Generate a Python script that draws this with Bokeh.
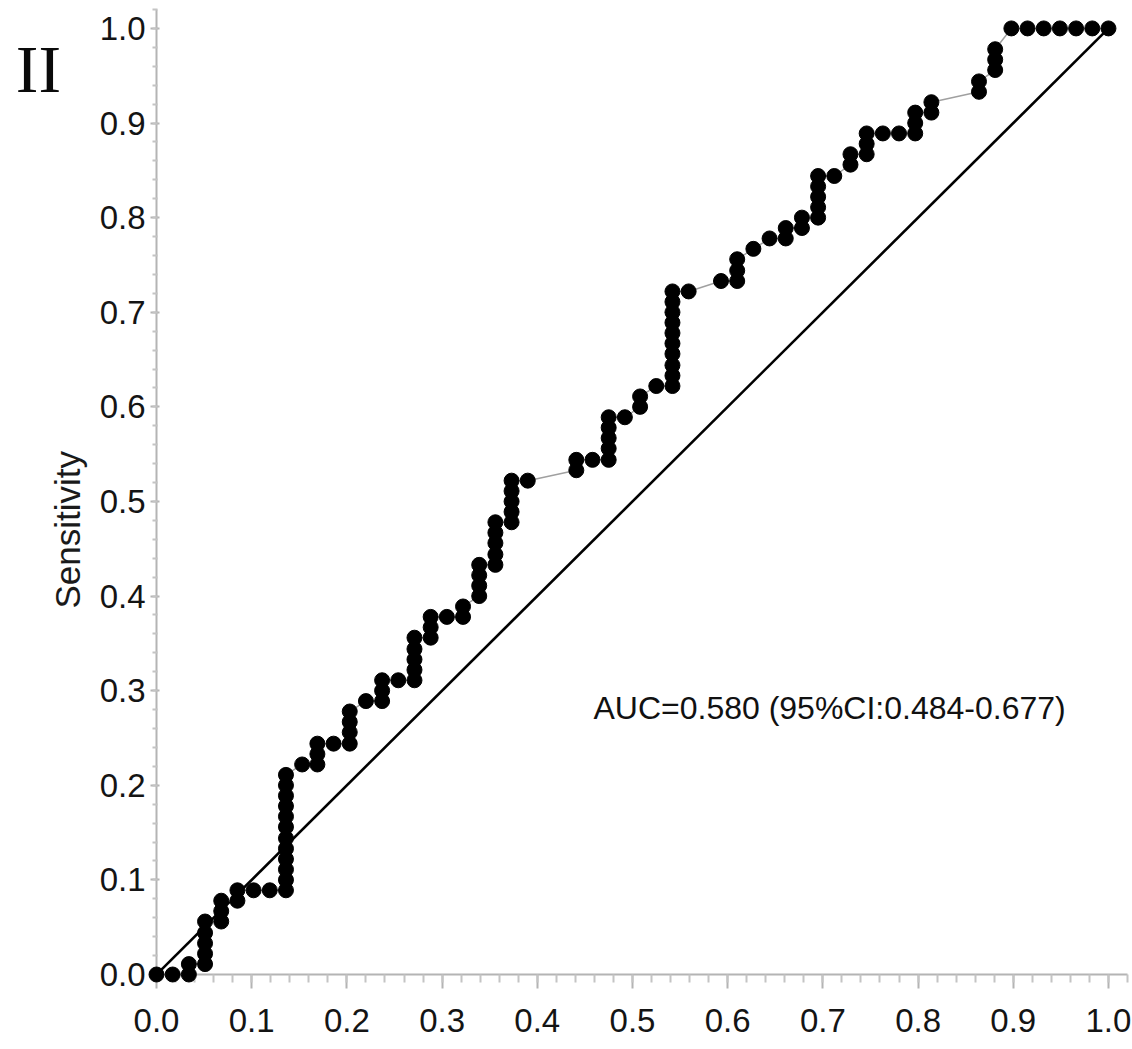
from bokeh.plotting import figure
from bokeh.models import Range1d, SingleIntervalTicker, PrintfTickFormatter
from bokeh.core.properties import value
from bokeh.embed import file_html
from bokeh.resources import INLINE

# ROC points (1 - specificity, sensitivity)
fpr = [
    0.000, 0.017,
    0.034, 0.034,
    0.051, 0.051, 0.051, 0.051, 0.051,
    0.068, 0.068, 0.068,
    0.085, 0.085,
    0.102, 0.119,
    0.136, 0.136, 0.136, 0.136, 0.136, 0.136, 0.136, 0.136, 0.136, 0.136, 0.136, 0.136,
    0.153,
    0.169, 0.169, 0.169,
    0.186,
    0.203, 0.203, 0.203, 0.203,
    0.220,
    0.237, 0.237, 0.237,
    0.254,
    0.271, 0.271, 0.271, 0.271, 0.271,
    0.288, 0.288, 0.288,
    0.305,
    0.322, 0.322,
    0.339, 0.339, 0.339, 0.339,
    0.356, 0.356, 0.356, 0.356, 0.356,
    0.373, 0.373, 0.373, 0.373, 0.373,
    0.390,
    0.441, 0.441,
    0.458,
    0.475, 0.475, 0.475, 0.475, 0.475,
    0.492,
    0.508, 0.508,
    0.525,
    0.542, 0.542, 0.542, 0.542, 0.542, 0.542, 0.542, 0.542, 0.542, 0.542,
    0.559,
    0.593,
    0.610, 0.610, 0.610,
    0.627, 0.644,
    0.661, 0.661,
    0.678, 0.678,
    0.695, 0.695, 0.695, 0.695, 0.695,
    0.712,
    0.729, 0.729,
    0.746, 0.746, 0.746,
    0.763, 0.780,
    0.797, 0.797, 0.797,
    0.814, 0.814,
    0.864, 0.864,
    0.881, 0.881, 0.881,
    0.898, 0.915, 0.932, 0.949, 0.966, 0.983, 1.000,
]
tpr = [
    0.000, 0.000,
    0.000, 0.011,
    0.011, 0.022, 0.033, 0.044, 0.056,
    0.056, 0.067, 0.078,
    0.078, 0.089,
    0.089, 0.089,
    0.089, 0.100, 0.111, 0.122, 0.133, 0.144, 0.156, 0.167, 0.178, 0.189, 0.200, 0.211,
    0.222,
    0.222, 0.233, 0.244,
    0.244,
    0.244, 0.256, 0.267, 0.278,
    0.289,
    0.289, 0.300, 0.311,
    0.311,
    0.311, 0.322, 0.333, 0.344, 0.356,
    0.356, 0.367, 0.378,
    0.378,
    0.378, 0.389,
    0.400, 0.411, 0.422, 0.433,
    0.433, 0.444, 0.456, 0.467, 0.478,
    0.478, 0.489, 0.500, 0.511, 0.522,
    0.522,
    0.533, 0.544,
    0.544,
    0.544, 0.556, 0.567, 0.578, 0.589,
    0.589,
    0.600, 0.611,
    0.622,
    0.622, 0.633, 0.644, 0.656, 0.667, 0.678, 0.689, 0.700, 0.711, 0.722,
    0.722,
    0.733,
    0.733, 0.744, 0.756,
    0.767, 0.778,
    0.778, 0.789,
    0.789, 0.800,
    0.800, 0.811, 0.822, 0.833, 0.844,
    0.844,
    0.856, 0.867,
    0.867, 0.878, 0.889,
    0.889, 0.889,
    0.889, 0.900, 0.911,
    0.911, 0.922,
    0.933, 0.944,
    0.956, 0.967, 0.978,
    1.000, 1.000, 1.000, 1.000, 1.000, 1.000, 1.000,
]
ref_x = [0.0, 1.0]
ref_y = [0.0, 1.0]
auc_text = "AUC=0.580 (95%CI:0.484-0.677)"
panel_tag = "II"
y_title = "Sensitivity"

SANS = "Liberation Sans"
SERIF = "Liberation Serif"

p = figure(width=1132, height=1049,
           x_range=Range1d(0, 1.02), y_range=Range1d(0, 1.02),
           output_backend="svg", toolbar_location=None,
           min_border_left=156, min_border_right=5,
           min_border_top=9, min_border_bottom=75)
p.outline_line_color = None
p.xgrid.visible = False
p.ygrid.visible = False
p.background_fill_color = "white"
p.border_fill_color = "white"

for ax in (p.xaxis[0], p.yaxis[0]):
    ax.ticker = SingleIntervalTicker(interval=0.1, num_minor_ticks=5)
    ax.formatter = PrintfTickFormatter(format="%.1f")
    ax.axis_line_color = "#b4b4b4"
    ax.axis_line_width = 2
    ax.major_tick_line_color = "#b4b4b4"
    ax.minor_tick_line_color = "#c4c4c4"
    ax.major_tick_line_width = 2
    ax.minor_tick_line_width = 2
    ax.major_label_text_font = SANS
    ax.major_label_text_font_size = "33px"
    ax.major_label_text_color = "#141414"

p.xaxis.major_tick_out = 14
p.xaxis.major_tick_in = 0
p.xaxis.minor_tick_out = 8
p.xaxis.minor_tick_in = 0
p.xaxis.major_label_standoff = 20

p.yaxis.major_tick_out = 6
p.yaxis.major_tick_in = 3
p.yaxis.minor_tick_out = 4
p.yaxis.minor_tick_in = 1
p.yaxis.major_label_standoff = 5

# diagonal reference line
p.line(ref_x, ref_y, line_color="#000000", line_width=2.6)
# ROC path and points
p.line(fpr, tpr, line_color="#a0a0a0", line_width=1.5, level="overlay")
p.scatter(fpr, tpr, size=15, fill_color="black", line_color="black", level="overlay")

# texts (drawn as overlay glyphs so that they are not clipped to the frame)
p.text(x=[0.459], y=[0.282], text=[auc_text], text_font=value(SANS),
       text_font_size=value("32px"), text_color="#111111",
       text_align="left", text_baseline="alphabetic", level="overlay")
p.text(x=[-0.094], y=[0.47], text=[y_title], angle=1.5707963,
       text_font=value(SANS), text_font_size=value("35px"), text_color="#1a1a1a",
       text_align="center", text_baseline="middle", level="overlay")
p.text(x=[-0.124], y=[0.957], text=[panel_tag], text_font=value(SERIF),
       text_font_size=value("68px"), text_color="#0a0a0a",
       text_align="center", text_baseline="middle", level="overlay")

open("out.html", "w").write(file_html(p, INLINE))
